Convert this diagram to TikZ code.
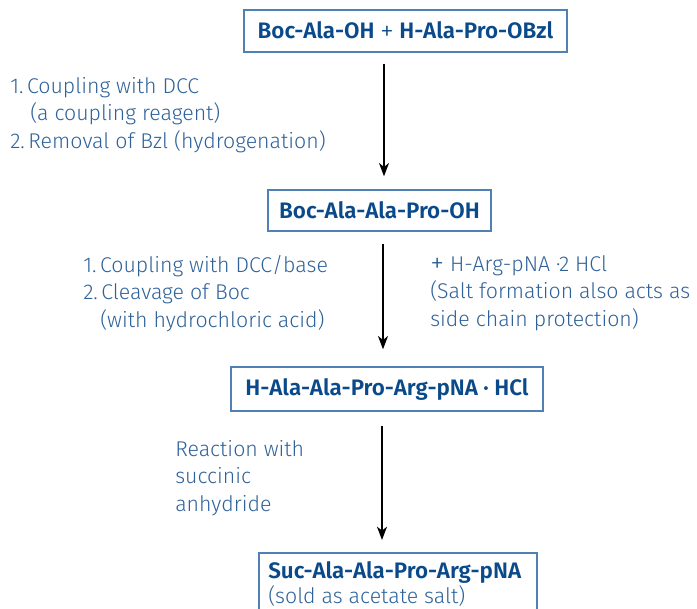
\documentclass[tikz,border=0pt]{standalone}
\usepackage{fontspec}
\setmainfont{Fira Sans}[UprightFont={* Light}, BoldFont={* SemiBold}]
\usetikzlibrary{arrows.meta}
\definecolor{boxtext}{HTML}{0B4A8A}
\definecolor{desctext}{HTML}{2F6299}
\definecolor{boxline}{HTML}{5080B4}
\newcommand{\bigplus}{{\fontsize{21pt}{21pt}\selectfont\raisebox{-1pt}{+}}}
\tikzset{
  stepbox/.style={draw=boxline, line width=1pt, text=boxtext, font=\fontsize{16.8pt}{20pt}\selectfont\bfseries, inner sep=0pt, anchor=center},
  desc/.style={text=desctext, font=\fontsize{16pt}{20.6pt}\selectfont, align=left, inner sep=0pt, anchor=north west},
  arr/.style={-{Stealth[length=10pt,width=7.5pt,inset=3pt]}, line width=1.3pt, black},
}
\begin{document}
\begin{tikzpicture}[x=0.75pt,y=-0.75pt]
\useasboundingbox (0,0) rectangle (697,609);
\clip (0,0) rectangle (697,609);
% boxes
\node[stepbox, minimum width=323*0.75pt, minimum height=42*0.75pt] (b1) at (405.5,31) {Boc-Ala-OH {\mdseries\bigplus} H-Ala-Pro-OBzl};
\node[stepbox, minimum width=223*0.75pt, minimum height=41*0.75pt] (b2) at (379.5,210.5) {Boc-Ala-Ala-Pro-OH};
\node[stepbox, minimum width=312*0.75pt, minimum height=44*0.75pt] (b3) at (387,389) {H-Ala-Ala-Pro-Arg-pNA · HCl};
% last box (open at bottom)
\coordinate (b4tl) at (259,553);
\coordinate (b4tr) at (537,553);
\coordinate (b4bl) at (259,615);
\coordinate (b4br) at (537,615);
\draw[boxline, line width=1pt] (b4bl) -- (b4tl) -- (b4tr) -- (b4br);
\node[text=boxtext, font=\fontsize{16.8pt}{20pt}\selectfont\bfseries, inner sep=0pt, anchor=base west] (b4a) at (268,579) {Suc-Ala-Ala-Pro-Arg-pNA};
\node[text=desctext, font=\fontsize{16pt}{20pt}\selectfont, inner sep=0pt, anchor=base west] (b4b) at (268,604) {(sold as acetate salt)};
% arrows
\coordinate (x1) at (384,0);
\coordinate (x2) at (383,0);
\coordinate (x3) at (382,0);
\draw[arr, shorten <=11*0.75pt, shorten >=13*0.75pt] (b1.south -| x1) -- (b2.north -| x1);
\draw[arr, shorten <=12*0.75pt, shorten >=17*0.75pt] (b2.south -| x2) -- (b3.north -| x2);
\draw[arr, shorten <=14*0.75pt, shorten >=13*0.75pt] (b3.south -| x3) -- (b4tl -| x3);
% descriptions
\node[desc] (d1) at (10,77) {1.\,Coupling with DCC\\\hspace*{15pt}(a coupling reagent)\\2.\,Removal of Bzl (hydrogenation)};
\node[desc] (d2) at (83,255) {1.\,Coupling with DCC/base\\2.\,Cleavage of Boc\\\hspace*{12.75pt}(with hydrochloric acid)};
\node[desc] (d3) at (430,255) {\bigplus\ H-Arg-pNA ·2 HCl\\(Salt formation also acts as\\side chain protection)};
\node[desc] (d4) at (175,440) {Reaction with\\succinic\\anhydride};
\end{tikzpicture}
\end{document}
